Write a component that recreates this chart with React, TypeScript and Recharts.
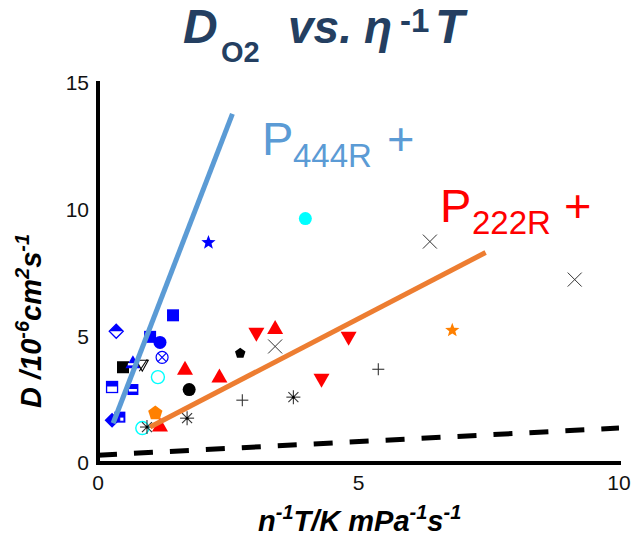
import React from 'react';
import { ScatterChart, Scatter, XAxis, YAxis } from 'recharts';

// ---------- axes ----------
const xTicks = [0, 5, 10];
const yTicks = [0, 5, 10, 15];
const xMinorTicks = [2.5, 5, 7.5];
const yMinorTicks = [2.5, 5, 7.5, 10, 12.5];

// ---------- fitted lines ----------
const p444rLine = [{ x: 0.29, y: 1.57 }, { x: 2.58, y: 13.78 }];
const p222rLine = [{ x: 1.0, y: 1.42 }, { x: 7.44, y: 8.31 }];
const dashedLine = [{ x: 0, y: 0.31 }, { x: 10, y: 1.38 }];

// ---------- markers ----------
const redTriangleUp = [
  { x: 1.67, y: 3.74 },
  { x: 3.4, y: 5.35 },
  { x: 2.33, y: 3.43 },
  { x: 1.19, y: 1.5 },
];
const redTriangleDown = [
  { x: 3.04, y: 5.08 },
  { x: 4.29, y: 3.27 },
  { x: 4.81, y: 4.92 },
];
const blueSquare = [{ x: 1.44, y: 5.83 }, { x: 1.0, y: 4.98 }];
const blueHalfDiamond = [{ x: 0.35, y: 5.2 }];
const blueCircle = [{ x: 1.19, y: 4.76 }];
const blueCrossCircle = [{ x: 1.23, y: 4.17 }];
const blackSquare = [{ x: 0.48, y: 3.78 }];
const blueBandTriangle = [{ x: 0.67, y: 3.98 }];
const blackSlashTriangle = [{ x: 0.85, y: 3.86 }];
const cyanOpenCircle = [{ x: 1.15, y: 3.39 }, { x: 0.85, y: 1.38 }];
const cyanCircle = [{ x: 3.98, y: 9.65 }];
const blueBandSquareOpen = [{ x: 0.27, y: 3.0 }];
const blueBandSquare = [{ x: 0.67, y: 2.9 }];
const blackCircle = [{ x: 1.75, y: 2.9 }];
const blueDiamond = [{ x: 0.27, y: 1.69 }];
const blueNotchSquare = [{ x: 0.42, y: 1.81 }];
const orangePentagon = [{ x: 1.1, y: 1.97 }];
const blackPentagon = [{ x: 2.73, y: 4.33 }];
const asterisk = [{ x: 0.94, y: 1.42 }, { x: 1.71, y: 1.77 }, { x: 3.75, y: 2.6 }];
const plusMark = [{ x: 2.77, y: 2.48 }, { x: 5.38, y: 3.7 }];
const crossMark = [{ x: 3.4, y: 4.6 }, { x: 6.37, y: 8.74 }, { x: 9.15, y: 7.24 }];
const blueStar = [{ x: 2.12, y: 8.7 }];
const orangeStar = [{ x: 6.8, y: 5.24 }];

const FONT = '"Liberation Sans", Arial, Helvetica, sans-serif';
const BLUE = '#0000FF';
const RED = '#FF0000';
const CYAN = '#00FFFF';
const ORANGE = '#FF8000';
const GREY = '#333333';

const polyPath = (cx: number, cy: number, r: number, n: number) => {
  let d = '';
  for (let i = 0; i < n; i++) {
    const a = -Math.PI / 2 + (i * 2 * Math.PI) / n;
    d += (i ? 'L' : 'M') + (cx + r * Math.cos(a)).toFixed(2) + ',' + (cy + r * Math.sin(a)).toFixed(2);
  }
  return d + 'Z';
};
const starPath = (cx: number, cy: number, ro: number, ri: number) => {
  let d = '';
  for (let i = 0; i < 10; i++) {
    const r = i % 2 ? ri : ro;
    const a = -Math.PI / 2 + (i * Math.PI) / 5;
    d += (i ? 'L' : 'M') + (cx + r * Math.cos(a)).toFixed(2) + ',' + (cy + r * Math.sin(a)).toFixed(2);
  }
  return d + 'Z';
};

type SP = { cx?: number; cy?: number };

const shapes: Record<string, (p: SP) => React.ReactElement> = {
  redUp: ({ cx = 0, cy = 0 }) => (
    <path d={`M${cx},${cy - 7.5}L${cx + 8},${cy + 6.5}L${cx - 8},${cy + 6.5}Z`} fill={RED} />
  ),
  redDown: ({ cx = 0, cy = 0 }) => (
    <path d={`M${cx - 8},${cy - 6.5}L${cx + 8},${cy - 6.5}L${cx},${cy + 7.5}Z`} fill={RED} />
  ),
  blueSquare: ({ cx = 0, cy = 0 }) => <rect x={cx - 6} y={cy - 6} width={12} height={12} fill={BLUE} />,
  blueHalfDiamond: ({ cx = 0, cy = 0 }) => (
    <g>
      <path d={`M${cx},${cy - 7}L${cx + 7},${cy}L${cx - 7},${cy}Z`} fill={BLUE} />
      <path d={`M${cx},${cy - 7}L${cx + 7},${cy}L${cx},${cy + 7}L${cx - 7},${cy}Z`} fill="none" stroke={BLUE} strokeWidth={1.3} />
    </g>
  ),
  blueCircle: ({ cx = 0, cy = 0 }) => <circle cx={cx} cy={cy} r={6.5} fill={BLUE} />,
  blueCrossCircle: ({ cx = 0, cy = 0 }) => (
    <g stroke={BLUE} strokeWidth={1.2} fill="none">
      <circle cx={cx} cy={cy} r={6} />
      <line x1={cx - 4.2} y1={cy - 4.2} x2={cx + 4.2} y2={cy + 4.2} />
      <line x1={cx - 4.2} y1={cy + 4.2} x2={cx + 4.2} y2={cy - 4.2} />
    </g>
  ),
  blackSquare: ({ cx = 0, cy = 0 }) => <rect x={cx - 6} y={cy - 6} width={12} height={12} fill="#000" />,
  blueBandTriangle: ({ cx = 0, cy = 0 }) => (
    <g>
      <path d={`M${cx},${cy - 7}L${cx + 7.5},${cy + 6}L${cx - 7.5},${cy + 6}Z`} fill={BLUE} />
      <rect x={cx - 5} y={cy + 1} width={10} height={2.2} fill="#fff" />
    </g>
  ),
  blackSlashTriangle: ({ cx = 0, cy = 0 }) => (
    <g stroke="#000" strokeWidth={1.1} fill="none">
      <path d={`M${cx - 6},${cy - 5}L${cx + 6},${cy - 5}L${cx},${cy + 6}Z`} />
      <line x1={cx - 3} y1={cy + 6} x2={cx + 5} y2={cy - 6} />
    </g>
  ),
  cyanOpen: ({ cx = 0, cy = 0 }) => <circle cx={cx} cy={cy} r={6.5} fill="none" stroke={CYAN} strokeWidth={1.4} />,
  cyanCircle: ({ cx = 0, cy = 0 }) => <circle cx={cx} cy={cy} r={6.5} fill={CYAN} />,
  blueBandSquareOpen: ({ cx = 0, cy = 0 }) => (
    <g>
      <rect x={cx - 5.5} y={cy - 5.5} width={11} height={11} fill="#fff" stroke={BLUE} strokeWidth={1.3} />
      <rect x={cx - 5.5} y={cy - 5.5} width={11} height={5} fill={BLUE} />
    </g>
  ),
  blueBandSquare: ({ cx = 0, cy = 0 }) => (
    <g>
      <rect x={cx - 5.5} y={cy - 5.5} width={11} height={11} fill={BLUE} />
      <rect x={cx - 4} y={cy - 0.5} width={8} height={2.5} fill="#fff" />
    </g>
  ),
  blackCircle: ({ cx = 0, cy = 0 }) => <circle cx={cx} cy={cy} r={6.5} fill="#000" />,
  blueDiamond: ({ cx = 0, cy = 0 }) => (
    <path d={`M${cx},${cy - 7.5}L${cx + 7.5},${cy}L${cx},${cy + 7.5}L${cx - 7.5},${cy}Z`} fill={BLUE} />
  ),
  blueNotchSquare: ({ cx = 0, cy = 0 }) => (
    <g>
      <rect x={cx - 5.5} y={cy - 5.5} width={11} height={11} fill={BLUE} />
      <rect x={cx} y={cy} width={4} height={4} fill="#fff" stroke={BLUE} strokeWidth={0.8} />
    </g>
  ),
  orangePentagon: ({ cx = 0, cy = 0 }) => <path d={polyPath(cx, cy, 7.5, 5)} fill={ORANGE} />,
  blackPentagon: ({ cx = 0, cy = 0 }) => <path d={polyPath(cx, cy, 5.5, 5)} fill="#000" />,
  asterisk: ({ cx = 0, cy = 0 }) => (
    <g stroke={GREY} strokeWidth={1.1}>
      <line x1={cx} y1={cy - 7} x2={cx} y2={cy + 7} />
      <line x1={cx - 7} y1={cy} x2={cx + 7} y2={cy} />
      <line x1={cx - 5} y1={cy - 5} x2={cx + 5} y2={cy + 5} />
      <line x1={cx - 5} y1={cy + 5} x2={cx + 5} y2={cy - 5} />
      <circle cx={cx} cy={cy} r={1.5} fill="#000" stroke="none" />
    </g>
  ),
  plus: ({ cx = 0, cy = 0 }) => (
    <g stroke={GREY} strokeWidth={1.1}>
      <line x1={cx} y1={cy - 6} x2={cx} y2={cy + 6} />
      <line x1={cx - 6} y1={cy} x2={cx + 6} y2={cy} />
    </g>
  ),
  cross: ({ cx = 0, cy = 0 }) => (
    <g stroke={GREY} strokeWidth={1}>
      <line x1={cx - 7} y1={cy - 7} x2={cx + 7} y2={cy + 7} />
      <line x1={cx - 7} y1={cy + 7} x2={cx + 7} y2={cy - 7} />
    </g>
  ),
  blueStar: ({ cx = 0, cy = 0 }) => <path d={starPath(cx, cy, 7.5, 3.2)} fill={BLUE} />,
  orangeStar: ({ cx = 0, cy = 0 }) => <path d={starPath(cx, cy, 7.5, 3.2)} fill={ORANGE} />,
};

const markerSeries: { name: string; data: { x: number; y: number }[]; shape: string }[] = [
  { name: 'redUp', data: redTriangleUp, shape: 'redUp' },
  { name: 'redDown', data: redTriangleDown, shape: 'redDown' },
  { name: 'blueSquare', data: blueSquare, shape: 'blueSquare' },
  { name: 'blueHalfDiamond', data: blueHalfDiamond, shape: 'blueHalfDiamond' },
  { name: 'blueCircle', data: blueCircle, shape: 'blueCircle' },
  { name: 'blueCrossCircle', data: blueCrossCircle, shape: 'blueCrossCircle' },
  { name: 'blackSquare', data: blackSquare, shape: 'blackSquare' },
  { name: 'blueBandTriangle', data: blueBandTriangle, shape: 'blueBandTriangle' },
  { name: 'blackSlashTriangle', data: blackSlashTriangle, shape: 'blackSlashTriangle' },
  { name: 'cyanOpen', data: cyanOpenCircle, shape: 'cyanOpen' },
  { name: 'cyanCircle', data: cyanCircle, shape: 'cyanCircle' },
  { name: 'blueBandSquareOpen', data: blueBandSquareOpen, shape: 'blueBandSquareOpen' },
  { name: 'blueBandSquare', data: blueBandSquare, shape: 'blueBandSquare' },
  { name: 'blackCircle', data: blackCircle, shape: 'blackCircle' },
  { name: 'blueDiamond', data: blueDiamond, shape: 'blueDiamond' },
  { name: 'blueNotchSquare', data: blueNotchSquare, shape: 'blueNotchSquare' },
  { name: 'orangePentagon', data: orangePentagon, shape: 'orangePentagon' },
  { name: 'blackPentagon', data: blackPentagon, shape: 'blackPentagon' },
  { name: 'asterisk', data: asterisk, shape: 'asterisk' },
  { name: 'plus', data: plusMark, shape: 'plus' },
  { name: 'cross', data: crossMark, shape: 'cross' },
  { name: 'blueStar', data: blueStar, shape: 'blueStar' },
  { name: 'orangeStar', data: orangeStar, shape: 'orangeStar' },
];

const axisLineStyle = { stroke: '#000', strokeWidth: 4, strokeLinecap: 'square' as const };
const minorTickLine = { stroke: '#000', strokeWidth: 3 };
const tickFont = { fill: '#111', fontSize: 21, fontFamily: FONT };
const empty = () => <g />;

const TITLE = '#243F61';

export default function App() {
  return (
    <div style={{ position: 'absolute', left: 0, top: 0, width: 633, height: 549, background: '#fff' }}>
      <ScatterChart width={633} height={549} margin={{ top: 83, right: 14, bottom: 56, left: 58 }}>
        <XAxis
          type="number"
          dataKey="x"
          domain={[0, 10]}
          ticks={xTicks}
          allowDataOverflow
          tickLine={false}
          axisLine={axisLineStyle}
          tick={tickFont}
          tickMargin={6}
          height={30}
        />
        <XAxis xAxisId="bm" type="number" dataKey="x" domain={[0, 10]} ticks={xMinorTicks} allowDataOverflow
          orientation="bottom" mirror height={0} tick={false} tickSize={5} tickLine={minorTickLine} axisLine={false} />
        <XAxis xAxisId="top" type="number" dataKey="x" domain={[0, 10]} ticks={xMinorTicks} allowDataOverflow
          orientation="top" mirror height={0} tick={false} tickSize={5} tickLine={minorTickLine} axisLine={axisLineStyle} />
        <YAxis
          type="number"
          dataKey="y"
          domain={[0, 15]}
          ticks={yTicks}
          allowDataOverflow
          tickLine={false}
          axisLine={axisLineStyle}
          tick={tickFont}
          tickMargin={3}
          width={40}
        />
        <YAxis yAxisId="lm" type="number" dataKey="y" domain={[0, 15]} ticks={yMinorTicks} allowDataOverflow
          orientation="left" mirror width={0} tick={false} tickSize={5} tickLine={minorTickLine} axisLine={false} />
        <YAxis yAxisId="right" type="number" dataKey="y" domain={[0, 15]} ticks={yMinorTicks} allowDataOverflow
          orientation="right" mirror width={0} tick={false} tickSize={5} tickLine={minorTickLine} axisLine={axisLineStyle} />

        {markerSeries.map((s) => (
          <Scatter key={s.name} name={s.name} data={s.data} shape={shapes[s.shape] as any} isAnimationActive={false} legendType="none" />
        ))}

        <Scatter name="dashed" data={dashedLine} shape={empty as any} isAnimationActive={false} legendType="none"
          line={{ stroke: '#000', strokeWidth: 5, strokeDasharray: '19 17' }} />
        <Scatter name="P444R" data={p444rLine} shape={empty as any} isAnimationActive={false} legendType="none"
          line={{ stroke: '#5B9BD5', strokeWidth: 5 }} />
        <Scatter name="P222R" data={p222rLine} shape={empty as any} isAnimationActive={false} legendType="none"
          line={{ stroke: '#ED7D31', strokeWidth: 5 }} />
      </ScatterChart>

      <svg width={633} height={549} style={{ position: 'absolute', left: 0, top: 0, pointerEvents: 'none' }}>
        {/* title */}
        <g fill={TITLE} fontFamily={FONT} fontWeight="bold">
          <text x={183} y={43} fontSize={48} fontStyle="italic">D</text>
          <text x={221} y={62} fontSize={29}>O2</text>
          <text x={288} y={43} fontSize={46} fontStyle="italic">vs.</text>
          <text x={364} y={43} fontSize={46} fontStyle="italic">η</text>
          <text x={400} y={32} fontSize={33}>-1</text>
          <text x={435} y={43} fontSize={48} fontStyle="italic">T</text>
        </g>

        {/* series labels */}
        <g fill="#5B9BD5" fontFamily={FONT}>
          <text x={262} y={155} fontSize={47}>P</text>
          <text x={293} y={167} fontSize={33}>444R</text>
          <text x={387} y={155} fontSize={47}>+</text>
        </g>
        <g fill={RED} fontFamily={FONT}>
          <text x={440} y={222} fontSize={47}>P</text>
          <text x={472} y={234} fontSize={33}>222R</text>
          <text x={564} y={222} fontSize={47}>+</text>
        </g>

        {/* y label */}
        <text transform="translate(41,408) rotate(-90)" fontFamily={FONT} fontWeight="bold" fontStyle="italic" fontSize={29} fill="#000">
          D /10<tspan fontSize={20} dy={-12}>-6</tspan><tspan dy={12}>cm</tspan><tspan fontSize={20} dy={-12}>2</tspan><tspan dy={12}>s</tspan><tspan fontSize={20} dy={-12}>-1</tspan>
        </text>

        {/* x label */}
        <text x={258} y={531} fontFamily={FONT} fontWeight="bold" fontStyle="italic" fontSize={29} fill="#000">
          n<tspan fontSize={20} dy={-12}>-1</tspan><tspan dy={12}>T/K mPa</tspan><tspan fontSize={20} dy={-12}>-1</tspan><tspan dy={12}>s</tspan><tspan fontSize={20} dy={-12}>-1</tspan>
        </text>
      </svg>
    </div>
  );
}
